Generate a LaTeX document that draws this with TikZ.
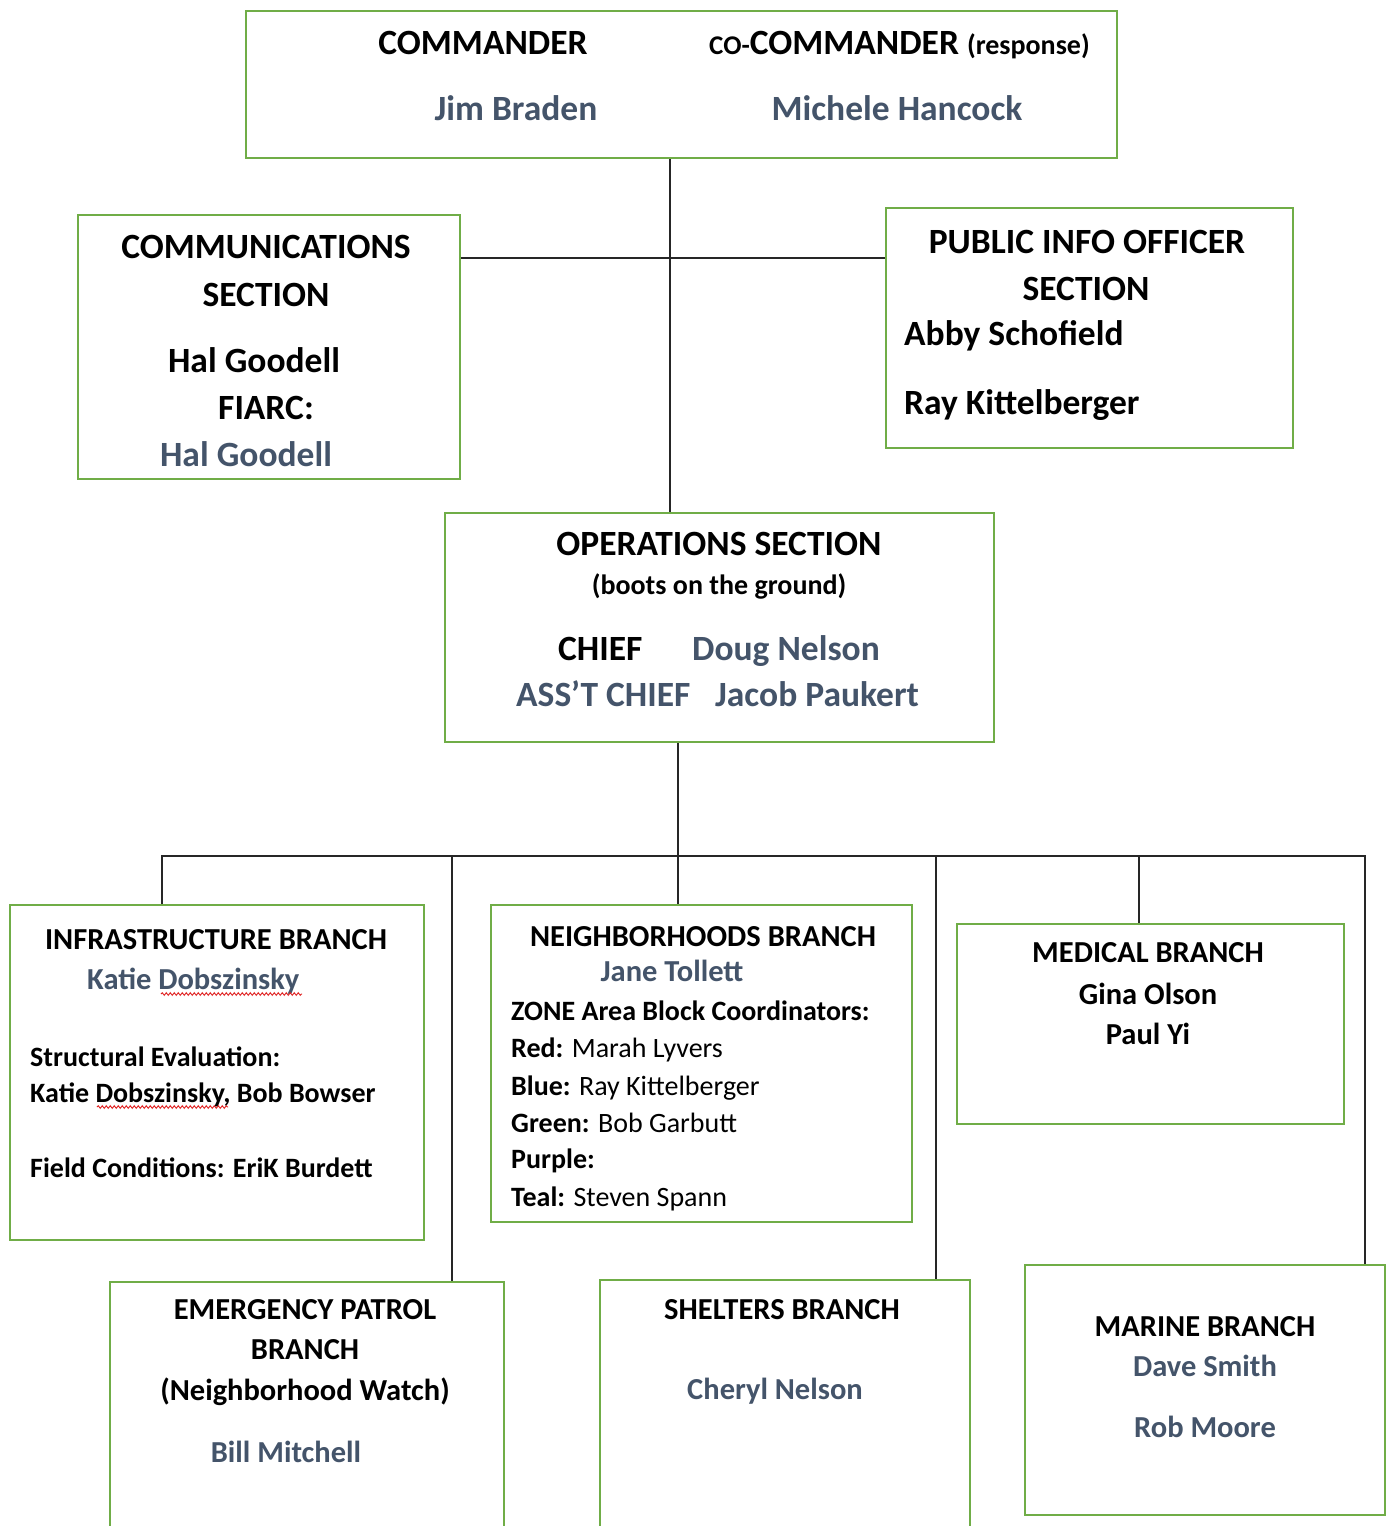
\documentclass[tikz,border=0pt]{standalone}
\usepackage{fontspec}
\setmainfont{Carlito}
\usetikzlibrary{decorations.pathmorphing}
\definecolor{boxgreen}{HTML}{70AD47}
\definecolor{slate}{HTML}{44546A}
\definecolor{spell}{HTML}{E02020}
\tikzset{
  box/.style={draw=boxgreen, line width=2pt, inner sep=0pt, anchor=north west},
  link/.style={draw=black!85, line width=1.5pt},
  big/.style={font=\fontsize{35.5}{40}\selectfont\bfseries, inner sep=0pt, anchor=base},
  brt/.style={font=\fontsize{30.5}{36}\selectfont\bfseries, inner sep=0pt, anchor=base},
  bod/.style={font=\fontsize{28}{33}\selectfont, inner sep=0pt, anchor=base west},
  nm/.style={text=slate},
  wavy/.style={draw=spell, line width=0.9pt, decorate, decoration={snake, segment length=4pt, amplitude=1.3pt}}
}
\begin{document}
\begin{tikzpicture}[x=1pt,y=-1pt]
\useasboundingbox (0,0) rectangle (1388,1526);
\clip (0,0) rectangle (1388,1526);
\fill[white] (0,0) rectangle (1388,1526);

% ---------- boxes ----------
\node[box, minimum width=871pt, minimum height=147pt] (top) at (245,10) {};
\node[box, minimum width=382pt, minimum height=264pt] (comm) at (77,214) {};
\node[box, minimum width=407pt, minimum height=240pt] (pio) at (885,207) {};
\node[box, minimum width=549pt, minimum height=229pt] (ops) at (444,512) {};
\node[box, minimum width=414pt, minimum height=335pt] (infra) at (9,904) {};
\node[box, minimum width=421pt, minimum height=317pt] (neigh) at (490,904) {};
\node[box, minimum width=387pt, minimum height=200pt] (med) at (956,923) {};
\node[box, minimum width=394pt, minimum height=270pt] (emerg) at (109,1281) {};
\node[box, minimum width=370pt, minimum height=272pt] (shelt) at (599,1279) {};
\node[box, minimum width=360pt, minimum height=250pt] (marine) at (1024,1264) {};

% ---------- connectors ----------
\coordinate (trunk) at (670,0);
\coordinate (hy) at (0,258);
\coordinate (opsx) at (678,0);
\coordinate (b1) at (162,856);
\coordinate (b2) at (452,856);
\coordinate (b4) at (936,856);
\coordinate (b5) at (1139,856);
\coordinate (b6) at (1365,856);

\draw[link] (top.south -| trunk) -- (ops.north -| trunk);
\draw[link] (comm.east |- hy) -- (pio.west |- hy);
\draw[link] (ops.south -| opsx) -- (neigh.north -| opsx);
\draw[link] (infra.north -| b1) -- (b1) -- (b6) -- (marine.north -| b6);
\draw[link] (b2) -- (emerg.north -| b2);
\draw[link] (b4) -- (shelt.north -| b4);
\draw[link] (b5) -- (med.north -| b5);

% ---------- top box ----------
\node[big] (cmdr) at (483,54) {COMMANDER};
\node[big, anchor=base west] (cocmdr) at (709,54) {{\fontsize{27}{30}\selectfont CO-}COMMANDER {\fontsize{28}{30}\selectfont (response)}};
\node[big, nm] (jim) at (516,120) {Jim Braden};
\node[big, nm] (mich) at (897,120) {Michele Hancock};

% ---------- communications ----------
\node[big] (commA) at (266,258) {COMMUNICATIONS};
\node[big] (commB) at (266,306) {SECTION};
\node[big] (commC) at (254,372) {Hal Goodell};
\node[big] (commD) at (266,419) {FIARC:};
\node[big, nm] (commE) at (246,466) {Hal Goodell};

% ---------- public info ----------
\node[big] (pioA) at (1087,253) {PUBLIC INFO OFFICER};
\node[big] (pioB) at (1086,300) {SECTION};
\node[big, anchor=base west] (pioC) at (904,345) {Abby Schofield};
\node[big, anchor=base west] (pioD) at (904,414) {Ray Kittelberger};

% ---------- operations ----------
\node[big] (opsA) at (719,555) {OPERATIONS SECTION};
\node[bod, font=\fontsize{28}{33}\selectfont\bfseries, anchor=base] (opsB) at (719,594) {(boots on the ground)};
\node[big, anchor=base west] (opsC) at (558,660) {CHIEF};
\node[big, nm, anchor=base west] (opsD) at (692,660) {Doug Nelson};
\node[big, nm, anchor=base west] (opsE) at (516,706) {ASS’T CHIEF};
\node[big, nm, anchor=base west] (opsF) at (715,706) {Jacob Paukert};

% ---------- infrastructure ----------
\node[brt] (infA) at (216,949) {INFRASTRUCTURE BRANCH};
\node[brt, nm, anchor=base west] (infB) at (87,989) {Katie Dobszinsky};
\node[bod, font=\fontsize{28}{33}\selectfont\bfseries] (infC) at (30,1066) {Structural Evaluation:};
\node[bod, font=\fontsize{28}{33}\selectfont\bfseries] (infD) at (30,1102) {Katie Dobszinsky, Bob Bowser};
\node[bod, font=\fontsize{28}{33}\selectfont\bfseries] (infE) at (30,1177) {Field Conditions: EriK Burdett};
\draw[wavy] (161,994) -- (302,994);
\draw[wavy] (97,1107) -- (228,1107);

% ---------- neighborhoods ----------
\node[brt] (nbA) at (703,946) {NEIGHBORHOODS BRANCH};
\node[brt, nm] (nbB) at (672,981) {Jane Tollett};
\node[bod] (nbC) at (511,1020) {\bfseries ZONE Area Block Coordinators:};
\node[bod] (nbD) at (511,1057) {\textbf{Red:} Marah Lyvers};
\node[bod] (nbE) at (511,1095) {\textbf{Blue:} Ray Kittelberger};
\node[bod] (nbF) at (511,1132) {\textbf{Green:} Bob Garbutt};
\node[bod] (nbG) at (511,1168) {\textbf{Purple:}};
\node[bod] (nbH) at (511,1206) {\textbf{Teal:} Steven Spann};

% ---------- medical ----------
\node[brt] (medA) at (1148,962) {MEDICAL BRANCH};
\node[brt] (medB) at (1148,1004) {Gina Olson};
\node[brt] (medC) at (1148,1044) {Paul Yi};

% ---------- emergency patrol ----------
\node[brt] (emA) at (305,1319) {EMERGENCY PATROL};
\node[brt] (emB) at (305,1359) {BRANCH};
\node[brt] (emC) at (305,1400) {(Neighborhood Watch)};
\node[brt, nm] (emD) at (286,1462) {Bill Mitchell};

% ---------- shelters ----------
\node[brt] (shA) at (782,1319) {SHELTERS BRANCH};
\node[brt, nm] (shB) at (775,1399) {Cheryl Nelson};

% ---------- marine ----------
\node[brt] (mrA) at (1205,1336) {MARINE BRANCH};
\node[brt, nm] (mrB) at (1205,1376) {Dave Smith};
\node[brt, nm] (mrC) at (1205,1437) {Rob Moore};
\end{tikzpicture}
\end{document}
